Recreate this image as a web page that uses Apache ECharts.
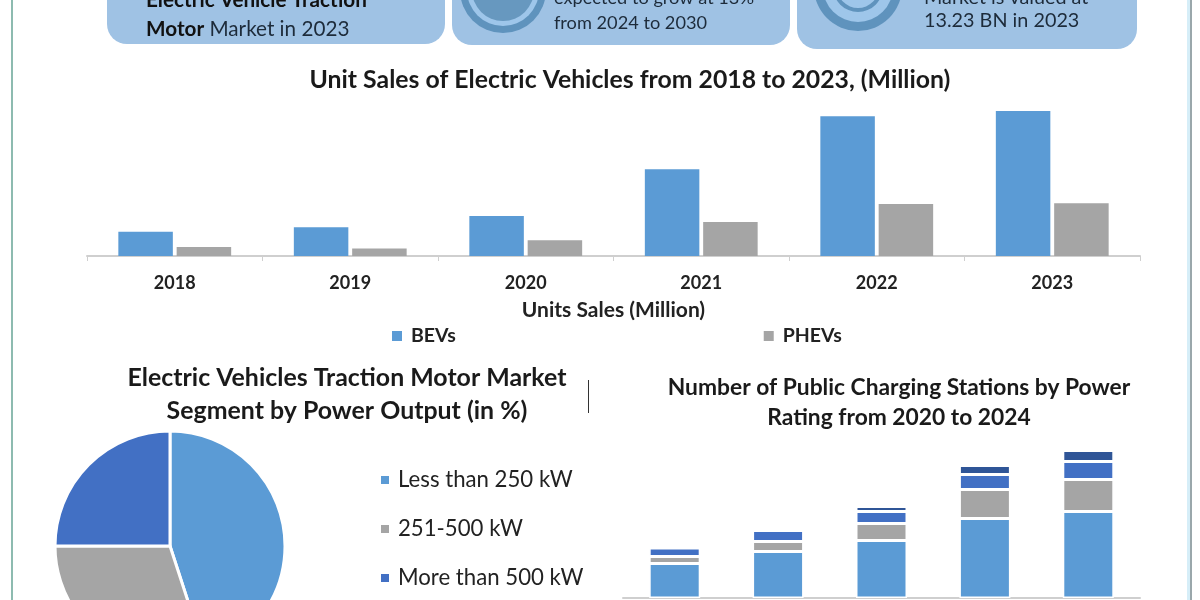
<!DOCTYPE html>
<html>
<head>
<meta charset="utf-8">
<script src="https://cdn.jsdelivr.net/npm/echarts@6/dist/echarts.min.js"></script>
<style>html,body{margin:0;padding:0;background:#fff}#c{width:1200px;height:600px}</style>
</head>
<body>
<div id="c"></div>
<script>
const salesYears = ['2018','2019','2020','2021','2022','2023'];
const bevs = [1.6,1.9,2.65,5.75,9.25,9.6];
const phevs = [0.6,0.5,1.05,2.25,3.45,3.5];
const powerNames = ['Less than 250 kW','251-500 kW','More than 500 kW'];
const powerShares = [45,30,25];
const stationYears = ['2020','2021','2022','2023','2024'];
const stationsA = [34.5,46.5,57.5,79.5,86.5];
const stationsB = [7,10,17,29,32];
const stationsC = [8.5,11,12,15,18];
const stationsD = [null,null,5,9,11];

const FONT = 'Lato';
const BLUE='#5b9bd5', GRAY='#a5a5a5', MID='#4270c4', NAVY='#2f5597';
const PANEL='#9fc2e4';
function panel(x,w,bottom){return {type:'rect',shape:{x:x,y:-40,width:w,height:bottom+40,r:20},style:{fill:PANEL},z:1};}
function circle(cx,cy,r,fill){return {type:'circle',shape:{cx:cx,cy:cy,r:r},style:{fill:fill},z:2};}
function label(x,y,text,size){return {type:'text',x:x,y:y,z:3,style:{text:text,fontFamily:FONT,fontSize:size,fill:'#1d2b3a',verticalAlign:'middle',
  rich:{b:{fontFamily:FONT,fontSize:size,fontWeight:'bold',fill:'#111'},n:{fontFamily:FONT,fontSize:size,fill:'#1d2b3a'}}}};}

const chart = echarts.init(document.getElementById('c'),null,{renderer:'canvas'});
chart.setOption({
  animation:false,
  backgroundColor:'#ffffff',
  graphic:[
    {type:'rect',shape:{x:11,y:0,width:2,height:600},style:{fill:'#8dbbb0'},z:1},
    {type:'rect',shape:{x:1187,y:0,width:3,height:600},style:{fill:'#d6eef8'},z:1},
    {type:'rect',shape:{x:1190,y:0,width:2,height:600},style:{fill:'#9aa7ab'},z:1},
    {type:'rect',shape:{x:588,y:380,width:1,height:33},style:{fill:'#333'},z:1},
    panel(107,338,44),panel(452,338,45),panel(797,340,49),
    circle(503,-10,43,'#5f93bd'),circle(503,-10,36,'#9ec6ea'),circle(503,-10,31,'#6798bf'),
    circle(858,-13,44,'#5f93bd'),circle(858,-13,35,'#9ec6ea'),circle(858,-13,25,'#5f93bd'),circle(858,-13,21,'#9ec6ea'),
    label(146,0,'{b|Electric Vehicle Traction}',20.7),
    label(146,29,'{b|Motor} {n|Market in 2023}',20.7),
    label(554,-2,'expected to grow at 13%',18.2),
    label(554,23,'from 2024 to 2030',18.2),
    label(924,-2,'Market is valued at',19.8),
    label(924,21,'13.23 BN in 2023',19.8)
  ],
  title:[
    {text:'Unit Sales of Electric Vehicles from 2018 to 2023, (Million)',left:625,top:62.5,textAlign:'center',
     textStyle:{fontFamily:FONT,fontSize:24.8,fontWeight:'bold',color:'#1a1a1a'}},
    {text:'Electric Vehicles Traction Motor Market\nSegment by Power Output (in %)',left:342,top:356,textAlign:'center',
     textStyle:{fontFamily:FONT,fontSize:24.9,fontWeight:'bold',color:'#1a1a1a',lineHeight:33}},
    {text:'Number of Public Charging Stations by Power\nRating from 2020 to 2024',left:894,top:368,textAlign:'center',
     textStyle:{fontFamily:FONT,fontSize:22.8,fontWeight:'bold',color:'#1a1a1a',lineHeight:30}}
  ],
  legend:[
    {data:['BEVs','PHEVs'],left:387,top:321,itemWidth:10,itemHeight:10,itemGap:308,icon:'rect',
     textStyle:{fontFamily:FONT,fontSize:19.5,fontWeight:'bold',color:'#222',padding:[0,0,0,4]}},
    {data:powerNames,orient:'vertical',left:374,top:464,itemWidth:10,itemHeight:10,itemGap:27,icon:'rect',
     textStyle:{fontFamily:FONT,fontSize:22.2,color:'#222',padding:[0,0,0,3]}}
  ],
  grid:[
    {left:87,width:1053,top:105,height:151},
    {left:623,width:517,top:440,height:158}
  ],
  xAxis:[
    {type:'category',gridIndex:0,data:salesYears,name:'Units Sales (Million)',nameLocation:'middle',nameGap:44,
     nameTextStyle:{fontFamily:FONT,fontSize:21,fontWeight:'bold',color:'#222'},
     axisLine:{lineStyle:{color:'#cfcfcf',width:2}},axisTick:{show:true,length:5,lineStyle:{color:'#cfcfcf'}},
     axisLabel:{fontFamily:FONT,fontSize:18,fontWeight:'bold',color:'#222',margin:18}},
    {type:'category',gridIndex:1,data:stationYears,axisLine:{lineStyle:{color:'#cfcfcf',width:2}},axisTick:{show:false},axisLabel:{show:false}}
  ],
  yAxis:[
    {type:'value',gridIndex:0,min:0,max:10,show:false,splitLine:{show:false}},
    {type:'value',gridIndex:1,min:0,max:158,show:false,splitLine:{show:false}}
  ],
  series:[
    {name:'BEVs',type:'bar',xAxisIndex:0,yAxisIndex:0,data:bevs,barWidth:54.5,barGap:'7%',itemStyle:{color:BLUE}},
    {name:'PHEVs',type:'bar',xAxisIndex:0,yAxisIndex:0,data:phevs,barWidth:54.5,barGap:'7%',itemStyle:{color:GRAY}},
    {name:'S1',type:'bar',stack:'s',xAxisIndex:1,yAxisIndex:1,data:stationsA,barWidth:51,itemStyle:{color:BLUE,borderColor:'#fff',borderWidth:1.5}},
    {name:'S2',type:'bar',stack:'s',xAxisIndex:1,yAxisIndex:1,data:stationsB,barWidth:51,itemStyle:{color:GRAY,borderColor:'#fff',borderWidth:1.5}},
    {name:'S3',type:'bar',stack:'s',xAxisIndex:1,yAxisIndex:1,data:stationsC,barWidth:51,itemStyle:{color:MID,borderColor:'#fff',borderWidth:1.5}},
    {name:'S4',type:'bar',stack:'s',xAxisIndex:1,yAxisIndex:1,data:stationsD,barWidth:51,itemStyle:{color:NAVY,borderColor:'#fff',borderWidth:1.5}},
    {name:'Power Output',type:'pie',center:[170,546],radius:[0,115],startAngle:90,clockwise:true,label:{show:false},labelLine:{show:false},
     itemStyle:{borderColor:'#fff',borderWidth:3},
     data:powerNames.map((n,i)=>({name:n,value:powerShares[i],itemStyle:{color:[BLUE,GRAY,MID][i]}}))}
  ]
});
</script>
</body>
</html>
